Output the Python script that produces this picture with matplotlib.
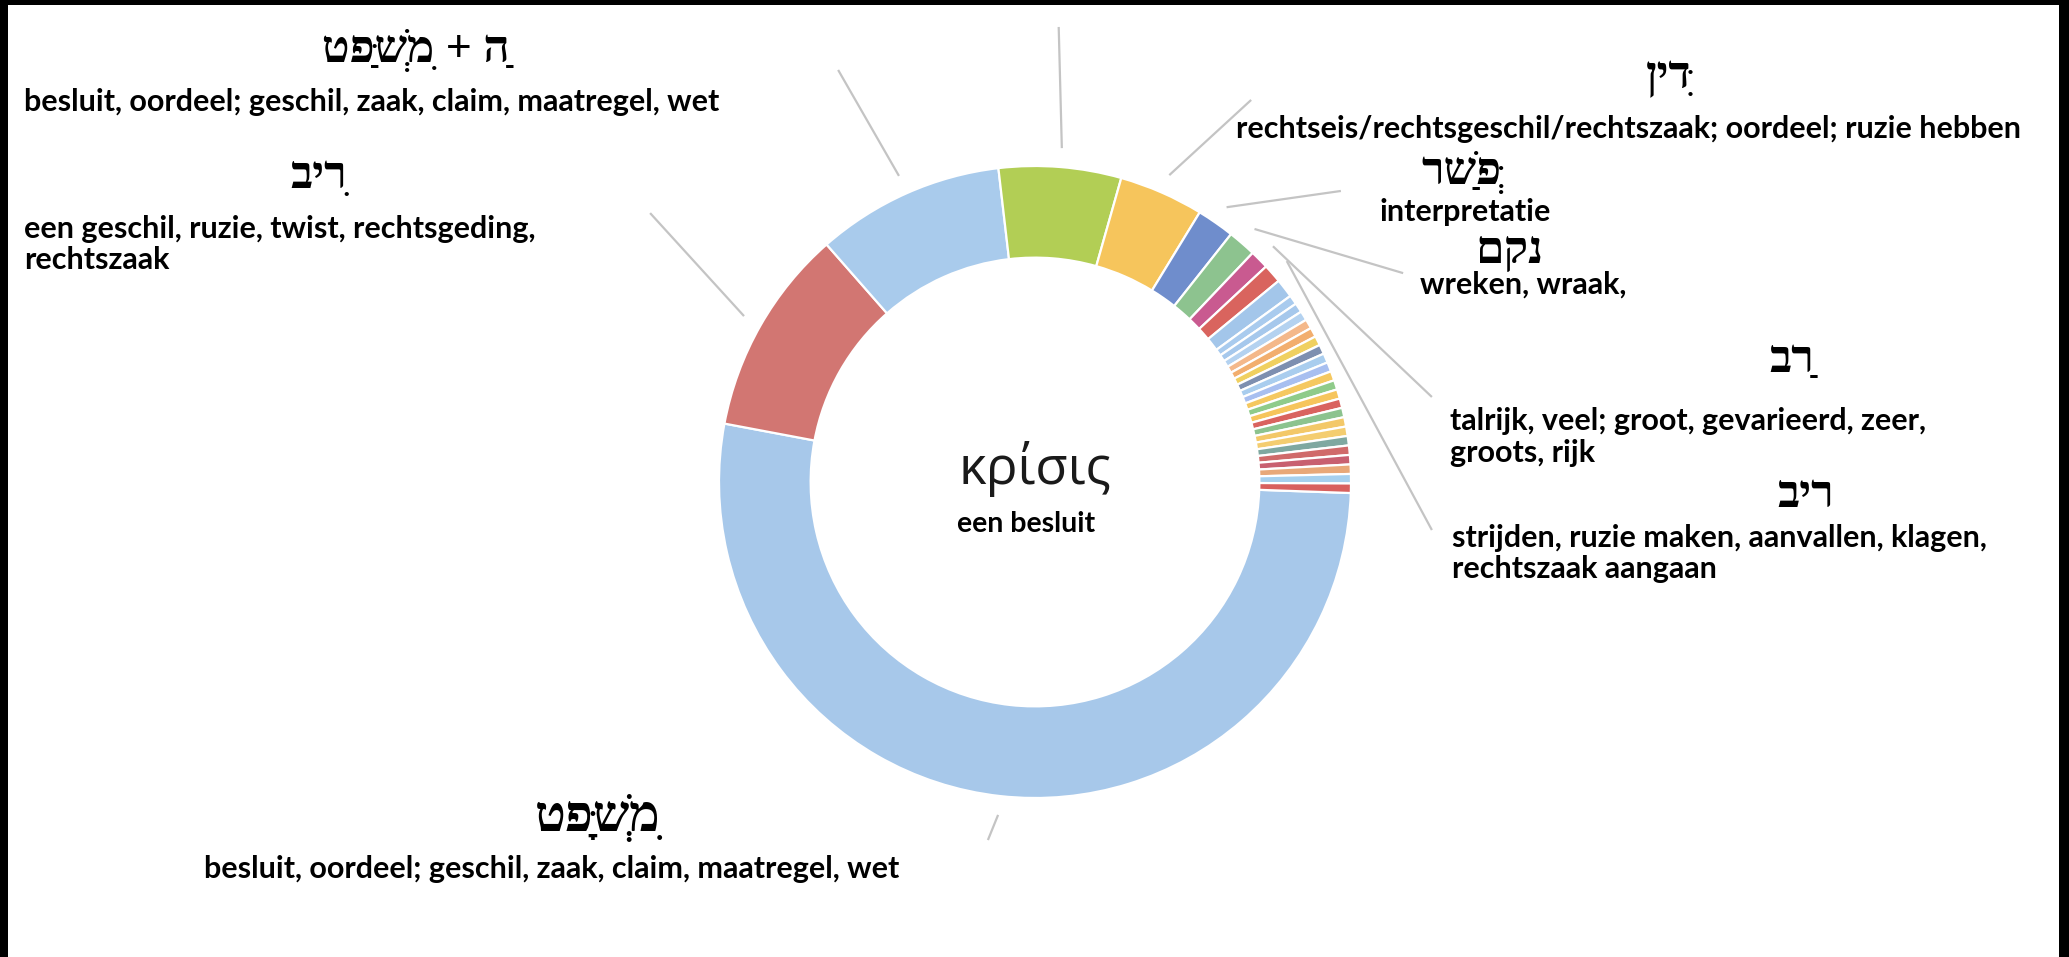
import unicodedata
import numpy as np
import matplotlib
matplotlib.use('Agg')
import matplotlib.pyplot as plt
from matplotlib.patches import Rectangle

# slices with a label (clockwise, starting just below 3 o'clock)
heb_words = ['מִשְׁפָּט', 'רִיב', 'הַ + מִשְׁפַּט', '', 'דִּין', 'פְּשַׁר', 'נקם', 'רַב', 'ריב']
counts = [109, 22, 20, 13, 9, 4, 3, 2, 2]
colors = ['#A7C8EA', '#D27672', '#A9CBEC', '#B2CE55', '#F6C55C', '#6F8DCC', '#8DC38F', '#C95A90', '#D9645E']

# the many small remaining slices
rest_counts = [2, 1, 1, 1, 1, 1, 1, 1, 1, 1, 1, 1, 1, 1, 1, 1, 1, 1, 1, 1, 1, 1, 1]
rest_colors = ['#A3C6EA', '#A9CBEE', '#A6C8EC', '#B4D2F0', '#F4B88A', '#F2AE6E', '#F0D060',
               '#7D8FB0', '#A9CDEE', '#A8BFF0', '#F5C860', '#8FCB8A', '#F6C55C', '#D9635F',
               '#8CC38E', '#F3C868', '#F4CD70', '#7FA8A0', '#D06A6A', '#C86070', '#E8A878',
               '#A6D0EE', '#D8605E']

glosses = ['besluit, oordeel; geschil, zaak, claim, maatregel, wet',
           'een geschil, ruzie, twist, rechtsgeding,\nrechtszaak',
           'besluit, oordeel; geschil, zaak, claim, maatregel, wet',
           '',
           'rechtseis/rechtsgeschil/rechtszaak; oordeel; ruzie hebben',
           'interpretatie',
           'wreken, wraak,',
           'talrijk, veel; groot, gevarieerd, zeer,\ngroots, rijk',
           'strijden, ruzie maken, aanvallen, klagen,\nrechtszaak aangaan']

greek_word = 'κρίσις'
greek_gloss = 'een besluit'

HEB = ['Liberation Serif', 'DejaVu Sans']
NL = ['Lato', 'DejaVu Sans']
GR = ['Open Sans', 'DejaVu Sans']

W, H = 2069, 957


def rtl(s):
    # matplotlib lays out left to right: reverse letter clusters, keep points with their letter
    clusters = []
    for ch in s:
        if clusters and unicodedata.combining(ch):
            clusters[-1] += ch
        else:
            clusters.append(ch)
    return ''.join(reversed(clusters))


def Y(y):
    # pixel rows are measured from the top of the picture
    return H - y


fig = plt.figure(figsize=(W / 100, H / 100), dpi=100, facecolor='black')
ax = fig.add_axes([0, 0, 1, 1])

cx, cy, R = 1035, Y(482), 316

wedges, _ = ax.pie(counts + rest_counts, colors=colors + rest_colors, radius=R, center=(cx, cy),
                   startangle=-2, counterclock=False,
                   wedgeprops=dict(width=0.29 * R, edgecolor='white', linewidth=1.6))

ax.set_xlim(0, W)
ax.set_ylim(0, H)
ax.set_aspect('auto')
ax.axis('off')

# white page inside the black frame
ax.add_patch(Rectangle((8, 0), W - 18, H - 5, facecolor='white', edgecolor='none', zorder=-5))

# leader lines: from the slice middle to where the label sits (in units of the radius)
leader_ends = [(-0.149, -1.133), (-1.218, 0.851), (-0.623, 1.304), (0.075, 1.44),
               (0.684, 1.209), (0.968, 0.921), (1.165, 0.661), (1.256, 0.269), (1.256, -0.152)]
for w, (ex, ey) in zip(wedges, leader_ends):
    a = np.deg2rad(0.5 * (w.theta1 + w.theta2))
    ax.plot([cx + 1.06 * R * np.cos(a), cx + ex * R], [cy + 1.06 * R * np.sin(a), cy + ey * R],
            color='#C4C4C4', lw=1.6, solid_capstyle='butt', clip_on=False, zorder=1)

hs = 33   # hebrew size
ns = 22   # dutch size
hb = dict(family=HEB, fontsize=hs, fontweight='bold', ha='center', va='baseline')
nb = dict(family=NL, fontsize=ns, fontweight='bold', va='baseline')

# left column
ax.text(416, Y(62), rtl(heb_words[2]), **hb)
ax.text(24, Y(111), glosses[2], ha='left', **nb)
ax.text(319, Y(188), rtl(heb_words[1]), **hb)
l1, l2 = glosses[1].split('\n')
ax.text(24, Y(238), l1, ha='left', **nb)
ax.text(24, Y(269), l2, ha='left', **nb)

# right column
ax.text(1669, Y(88), rtl(heb_words[4]), **hb)
ax.text(1236, Y(138), glosses[4], ha='left', **nb)
ax.text(1462, Y(184), rtl(heb_words[5]), **hb)
ax.text(1465, Y(221), glosses[5], ha='center', **nb)
ax.text(1509, Y(263), rtl(heb_words[6]), **hb)
ax.text(1420, Y(294), glosses[6], ha='left', **nb)
ax.text(1792, Y(372), rtl(heb_words[7]), **hb)
l1, l2 = glosses[7].split('\n')
ax.text(1450, Y(430), l1, ha='left', **nb)
ax.text(1450, Y(462), l2, ha='left', **nb)
ax.text(1806, Y(507), rtl(heb_words[8]), **hb)
l1, l2 = glosses[8].split('\n')
ax.text(1452, Y(547), l1, ha='left', **nb)
ax.text(1452, Y(578), l2, ha='left', **nb)

# bottom
ax.text(598, Y(831), rtl(heb_words[0]), **dict(hb, fontsize=hs + 4))
ax.text(552, Y(878), glosses[0], ha='center', **nb)

# centre of the ring
ax.text(cx, Y(484), greek_word, family=GR, fontsize=38, color='#1A1A1A', ha='center', va='baseline')
ax.text(1026, Y(532), greek_gloss, ha='center', **dict(nb, fontsize=ns - 1.5))

fig.savefig('out.png', dpi=100, facecolor=fig.get_facecolor())
